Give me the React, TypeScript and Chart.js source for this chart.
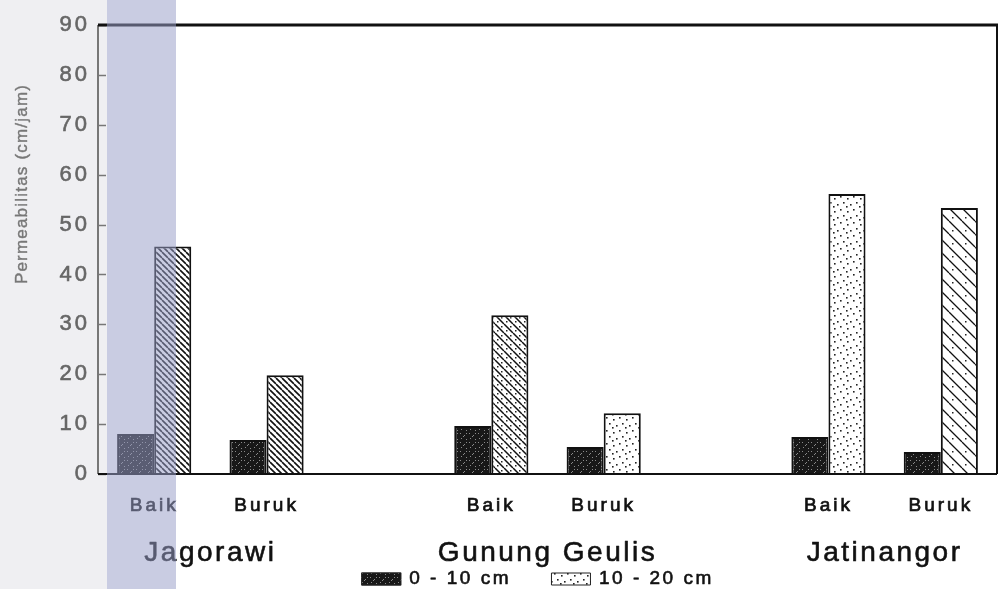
import React, { useEffect, useRef } from "react";
import { Chart, registerables } from "chart.js";

Chart.register(...registerables);

// ---- data ----
const groups = ["Jagorawi", "Gunung Geulis", "Jatinangor"];
const conditions = ["Baik", "Buruk"];
const seriesLabels = ["0 - 10 cm", "10 - 20 cm"];
const depth0to10 = [8.0, 6.8, 9.6, 5.4, 7.4, 4.4];
const depth10to20 = [45.6, 19.8, 31.8, 12.2, 56.1, 53.3];
const yMin = 0;
const yMax = 90;
const yStep = 10;
const yTitle = "Permeabilitas (cm/jam)";

const FONT = '"Liberation Sans", Arial, sans-serif';

// category slots: conditions of each group, with an empty slot between groups
const slotLabels: string[] = [];
const slotOfIndex: number[] = [];
const groupSlots: number[][] = [];
groups.forEach((g, gi) => {
  if (gi > 0) slotLabels.push("");
  const s: number[] = [];
  conditions.forEach((c) => {
    slotOfIndex.push(slotLabels.length);
    s.push(slotLabels.length);
    slotLabels.push(c);
  });
  groupSlots.push(s);
});

function toSlots<T>(vals: T[], empty: any): any[] {
  const out: any[] = slotLabels.map(() => empty);
  vals.forEach((v, i) => {
    out[slotOfIndex[i]] = v;
  });
  return out;
}

function tile(size: number, draw: (g: CanvasRenderingContext2D, s: number) => void): CanvasPattern {
  const c = document.createElement("canvas");
  c.width = size;
  c.height = size;
  const g = c.getContext("2d") as CanvasRenderingContext2D;
  draw(g, size);
  return g.createPattern(c, "repeat") as CanvasPattern;
}

function hatch(size: number, lw: number, dots: number[][] = []): CanvasPattern {
  return tile(size, (g, s) => {
    g.fillStyle = "#ffffff";
    g.fillRect(0, 0, s, s);
    g.strokeStyle = "#111111";
    g.lineWidth = lw;
    g.beginPath();
    for (let k = -1; k <= 1; k++) {
      g.moveTo(k * s, 0);
      g.lineTo(k * s + s, s);
    }
    g.stroke();
    g.fillStyle = "#222222";
    dots.forEach(([x, y]) => g.fillRect(x, y, 1.5, 1.5));
  });
}

function stipple(size: number, dots: number[][]): CanvasPattern {
  return tile(size, (g, s) => {
    g.fillStyle = "#ffffff";
    g.fillRect(0, 0, s, s);
    g.fillStyle = "#222222";
    dots.forEach(([x, y]) => g.fillRect(x, y, 1.6, 1.6));
  });
}

function darkFill(): CanvasPattern {
  return tile(9, (g, s) => {
    g.fillStyle = "#181818";
    g.fillRect(0, 0, s, s);
    g.fillStyle = "#8a8a8a";
    [[1, 1], [5, 3], [2, 6], [7, 7], [4, 4], [7, 1]].forEach(([x, y]) => g.fillRect(x, y, 1, 1));
  });
}

function heavyText(ctx: CanvasRenderingContext2D, text: string, x: number, y: number, color: string, sw: number) {
  ctx.fillStyle = color;
  ctx.strokeStyle = color;
  ctx.lineWidth = sw;
  ctx.lineJoin = "round";
  ctx.strokeText(text, x, y);
  ctx.fillText(text, x, y);
}

export default function App() {
  const ref = useRef<HTMLCanvasElement | null>(null);

  useEffect(() => {
    if (!ref.current) return;
    const dark = darkFill();
    const dense = hatch(6, 1.6);
    const medium = hatch(9, 1.5, [[2, 6], [6, 2]]);
    const dotted = stipple(13, [[2, 3], [8, 1], [5, 9], [11, 7], [1, 11]]);
    const sparse = hatch(13, 1.3, [[3, 9]]);
    const lightStyles = [dense, dense, medium, dotted, dotted, sparse];

    const decor = {
      id: "decor",
      beforeDraw(chart: any) {
        (chart.ctx as any).letterSpacing = "3px";
      },
      afterDatasetsDraw(chart: any) {
        const { ctx, chartArea: a } = chart;
        const y = chart.scales.y;
        ctx.save();
        // inward y ticks
        ctx.strokeStyle = "#777";
        ctx.lineWidth = 1.5;
        y.ticks.forEach((t: any) => {
          const py = Math.round(y.getPixelForValue(t.value)) + 0.5;
          ctx.beginPath();
          ctx.moveTo(a.left, py);
          ctx.lineTo(a.left + 8, py);
          ctx.stroke();
        });
        // left axis (gray)
        ctx.lineWidth = 2;
        ctx.beginPath();
        ctx.moveTo(a.left, a.top);
        ctx.lineTo(a.left, a.bottom);
        ctx.stroke();
        // bottom, right, top frame (black)
        ctx.strokeStyle = "#111";
        ctx.beginPath();
        ctx.moveTo(a.left, a.bottom);
        ctx.lineTo(a.right, a.bottom);
        ctx.moveTo(a.right, a.top);
        ctx.lineTo(a.right, a.bottom);
        ctx.stroke();
        ctx.lineWidth = 3;
        ctx.beginPath();
        ctx.moveTo(a.left, a.top);
        ctx.lineTo(a.right + 1, a.top);
        ctx.stroke();
        ctx.restore();
      },
      afterDraw(chart: any) {
        const { ctx, chartArea: a } = chart;
        const x = chart.scales.x;
        ctx.save();
        // group labels
        (ctx as any).letterSpacing = "2.5px";
        ctx.font = `28px ${FONT}`;
        ctx.textAlign = "center";
        ctx.textBaseline = "alphabetic";
        groups.forEach((g, gi) => {
          const s = groupSlots[gi];
          const cx = (x.getPixelForValue(s[0]) + x.getPixelForValue(s[s.length - 1])) / 2;
          heavyText(ctx, g, cx, 561, "#111", 0.6);
        });
        // legend
        (ctx as any).letterSpacing = "2.5px";
        ctx.font = `19px ${FONT}`;
        ctx.textAlign = "left";
        ctx.textBaseline = "middle";
        const swW = 40;
        const swH = 13;
        const gapIn = 8;
        const gapOut = 40;
        const fills = [dark, dotted];
        const widths = seriesLabels.map((l) => ctx.measureText(l).width);
        const total = swW * 2 + gapIn * 2 + gapOut + widths[0] + widths[1];
        let lx = (a.left + a.right) / 2 - 10 - total / 2;
        const ly = 579;
        seriesLabels.forEach((l, i) => {
          ctx.fillStyle = fills[i];
          ctx.fillRect(lx, ly - swH / 2, swW, swH);
          ctx.strokeStyle = "#222";
          ctx.lineWidth = 1;
          ctx.strokeRect(lx + 0.5, ly - swH / 2 + 0.5, swW - 1, swH - 1);
          lx += swW + gapIn;
          heavyText(ctx, l, lx, ly, "#111", 0.6);
          lx += widths[i] + gapOut;
        });
        // y axis title
        (ctx as any).letterSpacing = "1.2px";
        ctx.translate(22, 184);
        ctx.rotate(-Math.PI / 2);
        ctx.font = `17px ${FONT}`;
        ctx.textAlign = "center";
        ctx.textBaseline = "middle";
        heavyText(ctx, yTitle, 0, 0, "#777", 0.4);
        ctx.restore();
      },
    };

    const chart = new Chart(ref.current, {
      type: "bar",
      data: {
        labels: slotLabels,
        datasets: [
          {
            label: seriesLabels[0],
            data: toSlots(depth0to10, null),
            backgroundColor: dark as any,
            borderColor: "#111",
            borderWidth: 2,
            borderSkipped: "bottom",
            categoryPercentage: 0.66,
            barPercentage: 1,
          },
          {
            label: seriesLabels[1],
            data: toSlots(depth10to20, null),
            backgroundColor: toSlots(lightStyles, "#fff") as any,
            borderColor: "#111",
            borderWidth: 2,
            borderSkipped: "bottom",
            categoryPercentage: 0.66,
            barPercentage: 1,
          },
        ],
      },
      options: {
        animation: false,
        responsive: true,
        maintainAspectRatio: false,
        layout: { padding: { top: 25, right: 3, left: 0, bottom: 0 } },
        plugins: {
          legend: { display: false },
          tooltip: { enabled: false },
          title: { display: false },
        },
        scales: {
          x: {
            type: "category",
            offset: true,
            grid: { display: false, drawTicks: false },
            border: { display: false },
            ticks: {
              autoSkip: false,
              maxRotation: 0,
              minRotation: 0,
              padding: 20,
              color: "#111",
              textStrokeColor: "#111",
              textStrokeWidth: 0.7,
              font: { family: FONT, size: 19 },
            },
            afterFit: (s: any) => {
              s.height = 115;
            },
          },
          y: {
            min: yMin,
            max: yMax,
            grid: { display: false, drawTicks: false },
            border: { display: false },
            ticks: {
              stepSize: yStep,
              padding: 8,
              color: "#666",
              textStrokeColor: "#666",
              textStrokeWidth: 0.6,
              font: { family: FONT, size: 22 },
            },
            afterFit: (s: any) => {
              s.width = 98;
            },
          },
        },
      },
      plugins: [decor],
    });
    return () => chart.destroy();
  }, []);

  return (
    <div
      style={{
        position: "fixed",
        left: 0,
        top: 0,
        width: 1000,
        height: 589,
        background: "#ffffff",
        overflow: "hidden",
      }}
    >
      <div style={{ position: "absolute", left: 0, top: 0, width: 107, height: 589, background: "#efeff2" }} />
      <div style={{ position: "absolute", left: 0, top: 0, width: 1000, height: 589 }}>
        <canvas ref={ref} />
      </div>
      <div
        style={{
          position: "absolute",
          left: 107,
          top: 0,
          width: 69,
          height: 589,
          background: "rgba(152,158,200,0.52)",
          pointerEvents: "none",
        }}
      />
    </div>
  );
}
